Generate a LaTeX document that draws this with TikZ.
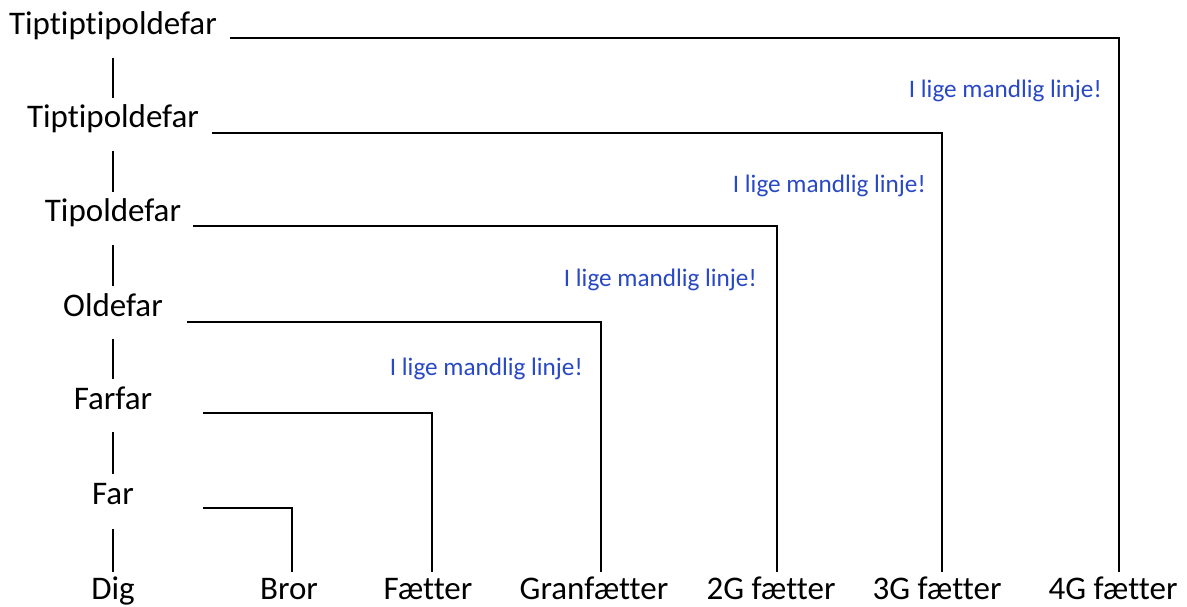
\documentclass[tikz,border=0pt]{standalone}
\usepackage{fontspec}
\setmainfont{Carlito}[Ligatures=NoCommon,RawFeature={-liga;-clig}]
\definecolor{noteblue}{RGB}{40,72,196}
\begin{document}
\begin{tikzpicture}[x=1pt,y=-1pt,
  person/.style={anchor=base,inner sep=0pt,font=\fontsize{33}{38}\selectfont},
  note/.style={anchor=base east,inner sep=0pt,text=noteblue,font=\fontsize{25.2}{30}\selectfont},
  conn/.style={line width=1.6pt,line join=miter},
  tick/.style={line width=1.6pt}]
\useasboundingbox (0,0) rectangle (1187,607);

% direct male line
\node[person] (t3)  at (113,35)  {Tiptiptipoldefar};
\node[person] (t2)  at (113,128) {Tiptipoldefar};
\node[person] (t1)  at (113,222) {Tipoldefar};
\node[person] (old) at (113,316) {Oldefar};
\node[person] (ff)  at (113,409) {Farfar};
\node[person] (far) at (113,504) {Far};
\node[person] (dig) at (113,599) {Dig};

% relatives on the bottom row
\node[person] (bror) at (289,599)  {Bror};
\node[person] (fa)   at (428,599)  {Fætter};
\node[person] (gf)   at (594,599)  {Granfætter};
\node[person] (g2)   at (771,599)  {2G fætter};
\node[person] (g3)   at (937,599)  {3G fætter};
\node[person] (g4)   at (1113,599) {4G fætter};

% ticks between generations
\foreach \a/\b in {t3/t2,t2/t1,t1/old,old/ff,ff/far}
  \draw[tick] ([yshift=-23pt]\a.base) -- ([yshift=30pt]\b.base);
\draw[tick] ([yshift=-25pt]far.base) -- ([yshift=27pt]dig.base);

% start points of the side lines
\coordinate (s3)  at (230,38);
\coordinate (s2)  at (212,133);
\coordinate (s1)  at (193,226);
\coordinate (s0)  at (187,322);
\coordinate (sff) at (203,413);
\coordinate (sfa) at (203,508);

\draw[conn] (s3)  -| ([xshift=6pt,yshift=27pt]g4.base);
\draw[conn] (s2)  -| ([xshift=5pt,yshift=27pt]g3.base);
\draw[conn] (s1)  -| ([xshift=6pt,yshift=27pt]g2.base);
\draw[conn] (s0)  -| ([xshift=7pt,yshift=27pt]gf.base);
\draw[conn] (sff) -| ([xshift=4pt,yshift=27pt]fa.base);
\draw[conn] (sfa) -| ([xshift=3pt,yshift=27pt]bror.base);

% notes
\node[note] (n4) at (1102,98)  {I lige mandlig linje!};
\node[note] (n3) at (926,193)  {I lige mandlig linje!};
\node[note] (n2) at (757,286)  {I lige mandlig linje!};
\node[note] (n1) at (583,375)  {I lige mandlig linje!};
\end{tikzpicture}
\end{document}
